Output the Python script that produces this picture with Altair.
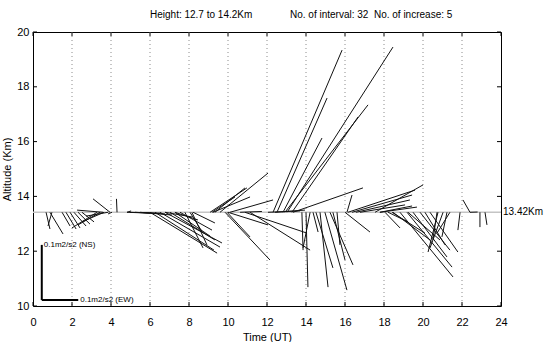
import altair as alt
import pandas as pd

# Reference altitude of the stick origins (km)
BASE = 13.42

# Stick plot: each stick starts at (start_time, BASE) and ends at (end_time, end_alt)
start_time = [
    0.67, 0.87, 0.97, 1.49, 1.69, 1.90, 2.10, 2.31, 2.51, 3.28, 3.44, 3.64, 3.59, 3.85, 3.95, 4.31, 4.05, 4.82,
    4.82, 4.97, 5.23, 5.49, 6.00, 6.26, 6.51, 6.77, 7.03, 7.28, 7.79, 8.15, 8.21, 7.28, 6.77, 8.05, 9.18, 9.08,
    9.23, 9.95, 7.54,
    9.33, 9.59, 10.10, 10.00, 9.85, 10.87, 11.13, 12.05, 12.41, 10.62,
    12.31, 12.51, 12.82, 13.03, 12.92, 13.28, 13.33, 16.10,
    13.79, 14.00, 14.21, 14.51, 14.72, 14.97, 15.23, 15.38, 15.59, 16.00, 14.36,
    16.15, 16.36, 16.56, 16.77, 17.54, 17.79, 17.79, 18.05, 18.21, 18.46, 18.82, 19.18, 19.49, 19.85, 20.36,
    21.03, 20.72, 21.23, 21.38, 21.90, 22.41, 22.92, 23.18, 18.41, 20.77, 20.10, 19.23, 22.41,
]
end_time = [
    0.87, 1.54, 0.77, 1.90, 2.21, 2.41, 2.72, 2.92, 3.13, 2.00, 2.31, 2.51, 2.26, 2.72, 3.08, 4.28, 3.85, 5.03,
    6.00, 6.51, 6.77, 7.13, 9.44, 9.28, 9.59, 9.69, 9.33, 9.08, 8.72, 8.92, 9.33, 8.46, 8.15, 8.72, 10.36, 10.97,
    11.13, 11.13, 9.18,
    10.87, 12.05, 12.31, 12.05, 12.15, 14.05, 14.21, 13.69, 13.95, 11.74,
    15.85, 15.08, 14.82, 18.46, 17.18, 16.67, 16.92, 16.36,
    13.85, 14.10, 13.85, 15.38, 15.13, 16.10, 16.41, 16.00, 15.74, 17.28, 14.62,
    19.59, 19.44, 19.33, 19.08, 20.00, 19.44, 19.69, 18.82, 19.23, 20.36, 21.54, 21.49, 21.23, 21.38, 21.79,
    20.36, 20.51, 20.97, 20.72, 21.79, 22.05, 22.92, 23.28, 20.10, 20.26, 21.13, 20.87, 22.80,
]
end_alt = [
    12.81, 12.63, 12.92, 12.92, 12.81, 12.85, 12.92, 12.99, 13.07, 12.85, 12.96, 13.07, 13.50, 13.28, 13.91, 13.91, 13.36, 13.47,
    13.39, 13.39, 13.36, 13.32, 11.93, 12.04, 12.15, 12.30, 12.41, 12.55, 12.12, 12.23, 13.03, 13.14, 13.25, 12.66, 13.98, 14.31,
    13.98, 12.52, 12.77,
    14.31, 14.85, 13.87, 12.96, 11.68, 12.66, 12.04, 13.47, 13.50, 13.45,
    19.34, 17.59, 16.13, 19.45, 17.34, 16.90, 14.31, 14.05,
    12.04, 10.69, 12.12, 11.39, 10.69, 10.58, 11.50, 11.68, 12.23, 12.70, 12.70,
    14.23, 14.05, 13.87, 13.69, 14.42, 13.65, 13.61, 12.85, 13.07, 12.41, 11.06, 11.42, 11.79, 12.04, 11.97,
    12.12, 12.41, 12.52, 12.66, 12.77, 13.87, 12.88, 12.96, 12.66, 11.97, 12.23, 12.41, 13.43,
]

# Axis ticks
tick_hours = list(range(0, 25, 2))
grid_hours = list(range(2, 23, 2))
tick_alts = list(range(10, 21, 2))

# Header texts
header_left = "Height: 12.7 to 14.2Km"
header_right = "No. of interval: 32\u00a0 No. of increase: 5"

# Scale bar (data units) and its labels
bar_time = [0.45, 2.32]
bar_alt = [10.22, 12.23]
bar_labels = ["0.1m2/s2 (NS)", "0.1m2/s2 (EW)"]

W, H = 468, 274
FONT = "Liberation Sans"

xs = alt.Scale(domain=[0, 24], nice=False, zero=False)
ys = alt.Scale(domain=[10, 20], nice=False, zero=False)

sticks = pd.DataFrame({"t0": start_time, "t1": end_time,
                       "a0": [BASE] * len(start_time), "a1": end_alt})

# One shared axis definition per channel, used by every layer so they merge cleanly
x_axis = alt.Axis(values=tick_hours, title="Time (UT)", ticks=False, tickSize=0, domain=False,
                  grid=False, labelFontSize=11, titleFontSize=11, labelPadding=10, titlePadding=4,
                  labelColor="black", titleColor="black", titleFontWeight="normal",
                  labelFont=FONT, titleFont=FONT, labelFlush=False)
y_axis = alt.Axis(values=tick_alts, title="Altitude (Km)", ticks=False, tickSize=0, domain=False,
                  grid=False, labelFontSize=11, titleFontSize=11, labelPadding=4, titlePadding=4,
                  labelColor="black", titleColor="black", titleFontWeight="normal",
                  labelFont=FONT, titleFont=FONT)


def X(field):
    return alt.X(field, scale=xs, axis=x_axis)


def Y(field):
    return alt.Y(field, scale=ys, axis=y_axis)


# Dotted vertical gridlines
grid = alt.Chart(pd.DataFrame({"h": grid_hours})).mark_rule(
    color="#8c8c8c", strokeWidth=1, strokeDash=[1, 3]
).encode(x=X("h:Q"), y=alt.value(0), y2=alt.value(H))

# Reference altitude line
base_line = alt.Chart(pd.DataFrame({"a": [BASE]})).mark_rule(
    color="#c4c4c4", strokeWidth=1.4
).encode(y=Y("a:Q"), x=alt.value(0), x2=alt.value(W))

stick_layer = alt.Chart(sticks).mark_rule(color="#111111", strokeWidth=1).encode(
    x=X("t0:Q"), y=Y("a0:Q"), x2="t1:Q", y2="a1:Q",
)

# Inward tick marks on all four sides
hdf = pd.DataFrame({"h": tick_hours})
adf = pd.DataFrame({"a": tick_alts})
tick_style = dict(color="black", strokeWidth=1)
ticks_bottom = alt.Chart(hdf).mark_rule(**tick_style).encode(
    x=X("h:Q"), y=alt.value(H), y2=alt.value(H - 4))
ticks_top = alt.Chart(hdf).mark_rule(**tick_style).encode(
    x=X("h:Q"), y=alt.value(0), y2=alt.value(4))
ticks_left = alt.Chart(adf).mark_rule(**tick_style).encode(
    y=Y("a:Q"), x=alt.value(0), x2=alt.value(4))
ticks_right = alt.Chart(adf).mark_rule(**tick_style).encode(
    y=Y("a:Q"), x=alt.value(W), x2=alt.value(W - 4))

# Label of the reference altitude, right of the frame
base_label = alt.Chart(pd.DataFrame({"a": [BASE], "txt": [f"{BASE}Km"]})).mark_text(
    align="left", baseline="middle", fontSize=10, font=FONT, color="black", dx=2
).encode(y=Y("a:Q"), x=alt.value(W), text="txt:N")

# Header lines above the frame
head1 = alt.Chart(pd.DataFrame({"txt": [header_left]})).mark_text(
    align="left", baseline="middle", fontSize=10, font=FONT, color="black"
).encode(x=alt.value(117), y=alt.value(-17), text="txt:N")
head2 = alt.Chart(pd.DataFrame({"txt": [header_right]})).mark_text(
    align="left", baseline="middle", fontSize=10, font=FONT, color="black"
).encode(x=alt.value(257), y=alt.value(-17), text="txt:N")

# Scale bar: vertical (NS) and horizontal (EW) reference lengths
bar_df = pd.DataFrame({"t0": [bar_time[0]], "t1": [bar_time[1]],
                       "a0": [bar_alt[0]], "a1": [bar_alt[1]]})
bar_v = alt.Chart(bar_df).mark_rule(color="black", strokeWidth=2).encode(
    x=X("t0:Q"), y=Y("a0:Q"), y2="a1:Q")
bar_h = alt.Chart(bar_df).mark_rule(color="black", strokeWidth=2).encode(
    x=X("t0:Q"), x2="t1:Q", y=Y("a0:Q"))
bar_text_df = pd.DataFrame({
    "t": [bar_time[0], bar_time[1]],
    "a": [bar_alt[1], bar_alt[0]],
    "txt": bar_labels,
})
bar_text = alt.Chart(bar_text_df).mark_text(
    align="left", baseline="middle", fontSize=8, font=FONT, color="black", dx=2
).encode(x=X("t:Q"), y=Y("a:Q"), text="txt:N")

chart = alt.layer(
    grid, base_line, stick_layer,
    ticks_bottom, ticks_top, ticks_left, ticks_right,
    base_label, head1, head2, bar_v, bar_h, bar_text,
).properties(
    width=W, height=H,
    autosize=alt.AutoSizeParams(type="none"),
    padding={"left": 33, "top": 32, "right": 49, "bottom": 36},
    background="white",
).configure_view(stroke="black", strokeWidth=1)

chart.save("out.html", embed_options={"renderer": "svg", "actions": False})
